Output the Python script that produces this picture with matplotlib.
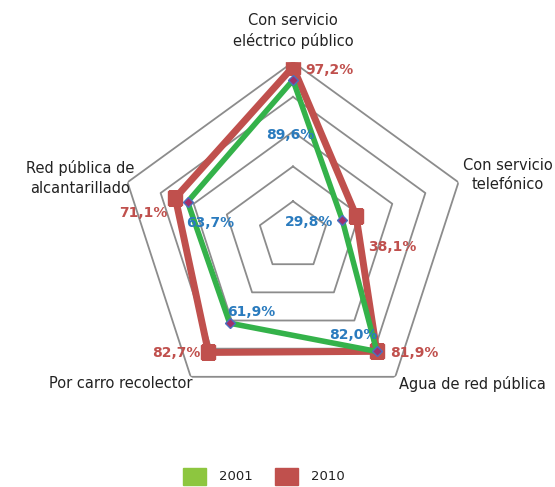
import numpy as np
import matplotlib
matplotlib.use("Agg")
import matplotlib.pyplot as plt
from matplotlib.patches import Rectangle

categories = ["Con servicio\neléctrico público", "Con servicio\ntelefónico",
              "Agua de red pública", "Por carro recolector",
              "Red pública de\nalcantarillado"]
values_2001 = [89.6, 29.8, 82.0, 61.9, 63.7]
values_2010 = [97.2, 38.1, 81.9, 82.7, 71.1]
grid_levels = [20, 40, 60, 80, 100]
series_names = ["2001", "2010"]

RED = "#C0504D"
GREEN = "#34B24A"
GREEN_LEG = "#8DC63F"
BLUE = "#2A7BBE"
GRID = "#8C8C8C"

fig = plt.figure(figsize=(5.55, 4.87), dpi=100)
ax = fig.add_axes([0.2144, 0.158, 0.627, 0.7146], projection="polar")
ax.set_theta_offset(np.pi / 2)
ax.set_theta_direction(-1)
ax.set_ylim(0, 100)
ax.grid(False)
ax.spines["polar"].set_visible(False)
ax.set_xticks([])
ax.set_yticks([])
ax.patch.set_alpha(0)

n = len(categories)
theta = np.linspace(0, 2 * np.pi, n, endpoint=False)
theta_c = np.append(theta, theta[0])

# pentagonal grid rings
for lvl in grid_levels:
    ax.plot(theta_c, [lvl] * (n + 1), color=GRID, lw=1.3, zorder=1)

# 2010 series
v10 = np.append(values_2010, values_2010[0])
ax.plot(theta_c, v10, color=RED, lw=5, zorder=3, solid_joinstyle="miter")
ax.plot(theta, values_2010, ls="none", marker="s", ms=10, color=RED, zorder=4)

# 2001 series
v01 = np.append(values_2001, values_2001[0])
ax.plot(theta_c, v01, color=GREEN, lw=4, zorder=5, solid_joinstyle="miter")
ax.plot(theta, values_2001, ls="none", marker="D", ms=5, mfc="#A0306A",
        mec="#4A6FC0", mew=1, zorder=6)

def fmt(v):
    return f"{v:.1f}%".replace(".", ",")

# value labels: (dx, dy) pixel offsets and alignment
off_2010 = [(12, -3, "left"), (12, -31, "left"), (13, -2, "left"),
            (-8, -1, "right"), (-8, -15, "right")]
off_2001 = [(-3, -55, "center"), (-9, -2, "right"), (1, 16, "right"),
            (-3, 11, "left"), (-1, -21, "left")]

for t, v, (dx, dy, ha) in zip(theta, values_2010, off_2010):
    ax.annotate(fmt(v), xy=(t, v), xytext=(dx, dy), textcoords="offset pixels",
                ha=ha, va="center", color=RED, fontsize=10, fontweight="bold",
                zorder=8)
for t, v, (dx, dy, ha) in zip(theta, values_2001, off_2001):
    ax.annotate(fmt(v), xy=(t, v), xytext=(dx, dy), textcoords="offset pixels",
                ha=ha, va="center", color=BLUE, fontsize=10, fontweight="bold",
                zorder=8)

# category labels (figure pixel positions)
W, H = 555, 487
cat_pos = [(293, 31), (508, 175), (472, 384), (121, 384), (80, 178)]
for name, (px, py) in zip(categories, cat_pos):
    fig.text(px / W, 1 - py / H, name, ha="center", va="center",
             fontsize=10.5, color="#222222", linespacing=1.35)

# legend
leg_items = [(183, GREEN_LEG, series_names[0]), (275, RED, series_names[1])]
for px, col, lab in leg_items:
    fig.patches.append(Rectangle((px / W, 1 - 485 / H), 23 / W, 17 / H,
                                 transform=fig.transFigure, color=col))
    fig.text((px + 36) / W, 1 - 477 / H, lab, ha="left", va="center",
             fontsize=9.5, color="#222222")

fig.savefig("out.png", dpi=100)
